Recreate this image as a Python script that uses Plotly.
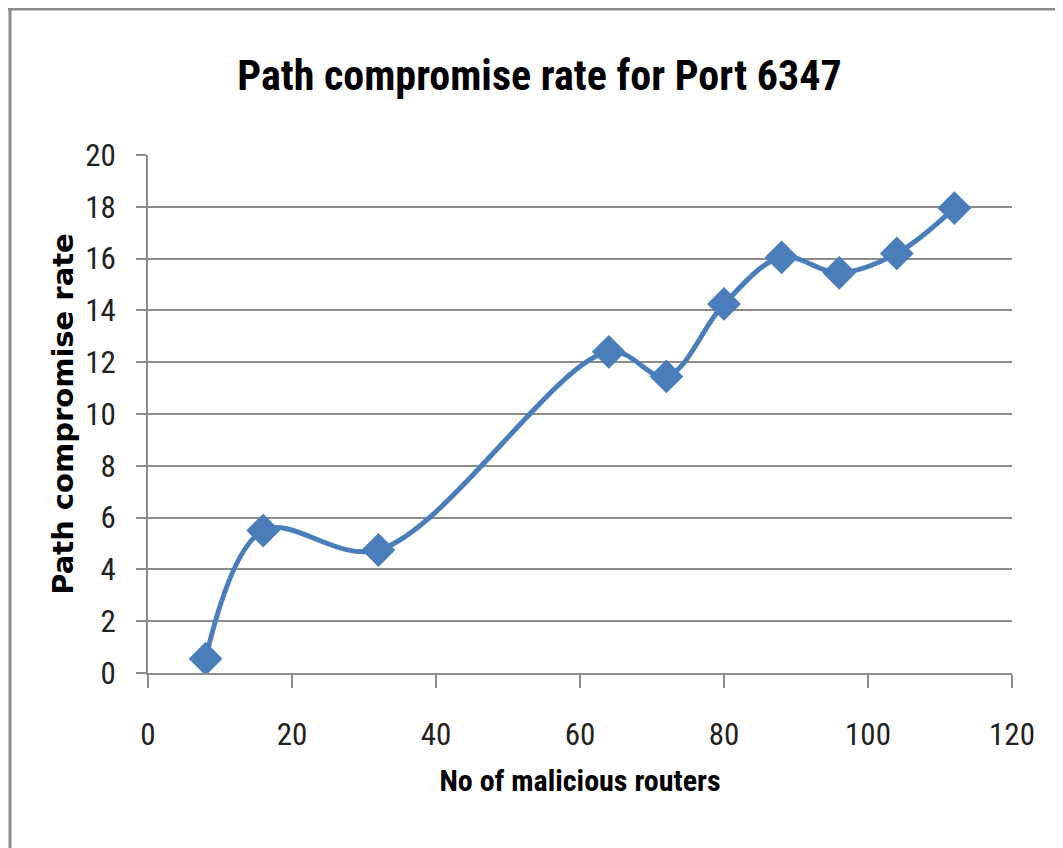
import plotly.graph_objects as go

# Data
routers = [8, 16, 32, 64, 72, 80, 88, 96, 104, 112]
compromise_rate = [0.55, 5.5, 4.75, 12.4, 11.45, 14.25, 16.05, 15.45, 16.2, 17.95]

x_ticks = [0, 20, 40, 60, 80, 100, 120]
y_ticks = [0, 2, 4, 6, 8, 10, 12, 14, 16, 18, 20]

title_text = "Path compromise rate for Port 6347"
x_title = "No of malicious routers"
y_title = "Path compromise rate"

BLUE = "#4A7EBB"
GRID = "#8C8C8C"
NARROW = "Liberation Sans Narrow, Arial Narrow, Roboto Condensed, Liberation Sans, sans-serif"

fig = go.Figure()
fig.add_trace(go.Scatter(
    x=routers, y=compromise_rate,
    mode="lines+markers",
    line=dict(color=BLUE, width=5, shape="spline", smoothing=1.0),
    marker=dict(symbol="diamond", size=26, color=BLUE, line=dict(width=0)),
    showlegend=False,
    hoverinfo="x+y",
))

fig.update_layout(
    width=1063, height=848,
    paper_bgcolor="white", plot_bgcolor="white",
    margin=dict(l=140, r=59, t=147, b=183),
    title=dict(
        text=title_text,
        x=0.5, xanchor="center",
        y=0.921, yanchor="middle",
        font=dict(family=NARROW, size=42, color="black", weight="bold"),
    ),
    xaxis=dict(
        range=[0, 120], tickvals=x_ticks, ticktext=[str(v) for v in x_ticks],
        showgrid=False, zeroline=False,
        showline=True, linecolor=GRID, linewidth=2,
        ticks="outside", ticklen=13, tickwidth=2, tickcolor=GRID,
        ticklabelstandoff=20,
        tickfont=dict(family=NARROW, size=31, color="#222222"),
        title=dict(text=x_title, standoff=18,
                   font=dict(family=NARROW, size=30, color="black", weight="bold")),
    ),
    yaxis=dict(
        range=[0, 20], tickvals=y_ticks, ticktext=[str(v) for v in y_ticks],
        showgrid=True, gridcolor=GRID, gridwidth=2,
        zeroline=False,
        showline=True, linecolor=GRID, linewidth=2,
        ticks="outside", ticklen=10, tickwidth=2, tickcolor=GRID,
        ticklabelstandoff=14,
        tickfont=dict(family=NARROW, size=31, color="#222222"),
        title=dict(text=y_title, standoff=3,
                   font=dict(family="DejaVu Sans, Verdana, sans-serif", size=29, color="black", weight="bold")),
    ),
)

# Outer chart-area border (top and left edges visible in the reference)
fig.add_shape(type="line", xref="paper", yref="paper",
              x0=-0.165, x1=1.1, y0=1.282, y1=1.282,
              line=dict(color="#8A8A8A", width=3))
fig.add_shape(type="line", xref="paper", yref="paper",
              x0=-0.1597, x1=-0.1597, y0=1.285, y1=-0.4,
              line=dict(color="#8A8A8A", width=3))

fig.write_html("out.html")
